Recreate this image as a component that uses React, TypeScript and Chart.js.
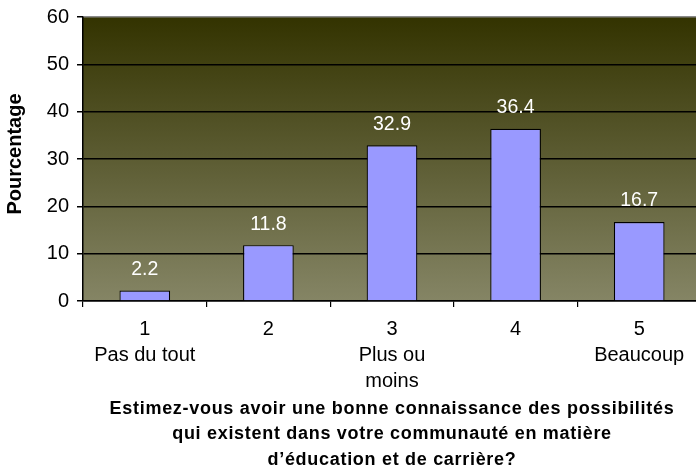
import React, { useEffect, useRef } from "react";
import { Chart, registerables } from "chart.js";

Chart.register(...registerables);

const categories: string[][] = [
  ["1", "Pas du tout"],
  ["2"],
  ["3", "Plus ou", "moins"],
  ["4"],
  ["5", "Beaucoup"],
];
const values: number[] = [2.2, 11.8, 32.9, 36.4, 16.7];
const valueLabels: string[] = ["2.2", "11.8", "32.9", "36.4", "16.7"];
const yTitle = "Pourcentage";
const xTitle: string[] = [
  "Estimez-vous avoir une bonne connaissance des possibilités",
  "qui existent dans votre communauté en matière",
  "d’éducation et de carrière?",
];

const FONT = "'Liberation Sans', Arial, sans-serif";

const bgPlugin = {
  id: "bgGradient",
  beforeDraw(chart: any) {
    const { ctx, chartArea } = chart;
    if (!chartArea) return;
    const g = ctx.createLinearGradient(0, chartArea.top, 0, chartArea.bottom);
    g.addColorStop(0, "#333300");
    g.addColorStop(1, "#858565");
    ctx.save();
    ctx.fillStyle = g;
    ctx.fillRect(chartArea.left, chartArea.top, chartArea.right - chartArea.left, chartArea.bottom - chartArea.top);
    ctx.restore();
  },
  afterDatasetsDraw(chart: any) {
    const { ctx } = chart;
    const meta = chart.getDatasetMeta(0);
    ctx.save();
    ctx.fillStyle = "#ffffff";
    ctx.font = `19.5px ${FONT}`;
    ctx.textAlign = "center";
    ctx.textBaseline = "middle";
    meta.data.forEach((bar: any, i: number) => {
      ctx.fillText(valueLabels[i], bar.x, bar.y - 21);
    });
    ctx.restore();
  },
  afterDraw(chart: any) {
    const { ctx, chartArea } = chart;
    ctx.save();
    ctx.fillStyle = "#000000";
    ctx.textAlign = "center";
    ctx.textBaseline = "middle";
    ctx.font = `bold 20px ${FONT}`;
    ctx.translate(15, 154);
    ctx.rotate(-Math.PI / 2);
    ctx.fillText(yTitle, 0, 0);
    ctx.restore();
    ctx.save();
    ctx.fillStyle = "#000000";
    ctx.textAlign = "center";
    ctx.textBaseline = "middle";
    ctx.font = `bold 18px ${FONT}`;
    (ctx as any).letterSpacing = "0.7px";
    const cx = (chartArea.left + chartArea.right) / 2;
    xTitle.forEach((line, i) => {
      ctx.fillText(line, cx, 409 + i * 25.5);
    });
    ctx.restore();
  },
};

export default function App() {
  const ref = useRef<HTMLCanvasElement | null>(null);
  useEffect(() => {
    if (!ref.current) return;
    const chart = new Chart(ref.current, {
      type: "bar",
      data: {
        labels: categories,
        datasets: [
          {
            data: values,
            backgroundColor: "#9999FF",
            borderColor: "#000000",
            borderWidth: 1.2,
            barPercentage: 0.41,
            categoryPercentage: 1,
          },
        ],
      },
      options: {
        animation: false,
        responsive: false,
        maintainAspectRatio: false,
        layout: { padding: { top: 17, right: 1, left: 0, bottom: 0 } },
        plugins: {
          legend: { display: false },
          tooltip: { enabled: false },
        },
        scales: {
          x: {
            offset: true,
            grid: {
              offset: true,
              drawOnChartArea: false,
              drawTicks: true,
              tickLength: 6,
              color: "#000000",
              lineWidth: 1.2,
            },
            border: { display: true, color: "#000000", width: 1.5 },
            ticks: {
              color: "#000000",
              font: { family: FONT, size: 20, lineHeight: 1.3 },
              padding: 9,
              maxRotation: 0,
              autoSkip: false,
            },
            afterFit(scale: any) {
              scale.height = 169;
              scale.paddingLeft = 0;
              scale.paddingRight = 0;
            },
          },
          y: {
            min: 0,
            max: 60,
            ticks: {
              stepSize: 10,
              color: "#000000",
              font: { family: FONT, size: 20 },
              padding: 8,
            },
            grid: {
              color: (c: any) => (c.tick && c.tick.value === 60 ? "#8a8a8a" : "#000000"),
              lineWidth: 1.5,
              tickLength: 6,
              tickColor: "#000000",
            },
            border: { display: true, color: "#000000", width: 1.5 },
            afterFit(scale: any) {
              scale.width = 83;
              scale.paddingTop = 0;
              scale.paddingBottom = 0;
            },
          },
        },
      },
      plugins: [bgPlugin],
    } as any);
    return () => chart.destroy();
  }, []);
  return (
    <div style={{ position: "fixed", left: 0, top: 0, width: 696, height: 470, overflow: "hidden", background: "#fff" }}>
      <canvas ref={ref} width={702} height={470} style={{ display: "block", width: 702, height: 470 }} />
    </div>
  );
}
